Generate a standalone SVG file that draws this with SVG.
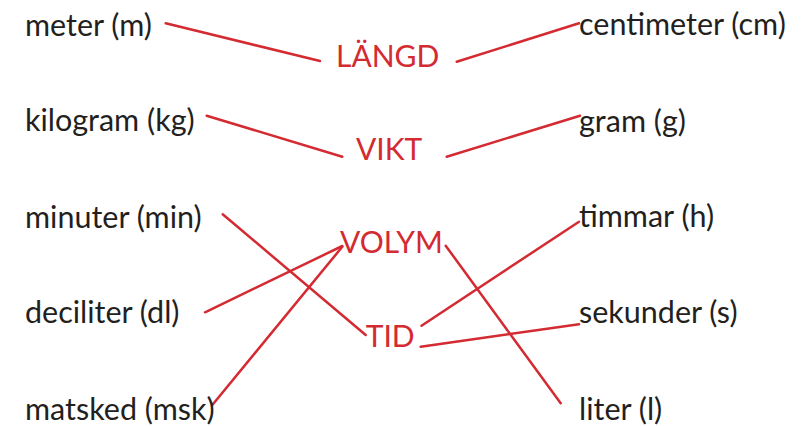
<svg xmlns="http://www.w3.org/2000/svg" width="805" height="426" viewBox="0 0 805 426">
<style>
.t{font-family:Lato,"Open Sans",sans-serif;font-size:30.5px;fill:#231f20}
.c{font-family:Lato,"Open Sans",sans-serif;font-size:30px;fill:#d42a32}
.l{stroke:#d42a32;stroke-width:2.5;fill:none;stroke-linecap:round}
</style>
<rect width="805" height="426" fill="#fff"/>
<g id="connectors">
<line class="l" x1="165.7" y1="23.3" x2="320" y2="61"/>
<line class="l" x1="456.7" y1="61.7" x2="579" y2="23.3"/>
<line class="l" x1="206.7" y1="115.7" x2="342.3" y2="156.7"/>
<line class="l" x1="446.7" y1="156.7" x2="580" y2="115.7"/>
<line class="l" x1="222.7" y1="214.3" x2="365.7" y2="335"/>
<line class="l" x1="205" y1="312.3" x2="342.3" y2="246"/>
<line class="l" x1="212.3" y1="405" x2="342.3" y2="246.7"/>
<line class="l" x1="421.5" y1="325.7" x2="579" y2="221.7"/>
<line class="l" x1="420.7" y1="346.7" x2="579" y2="324.3"/>
<line class="l" x1="445.7" y1="245.7" x2="560.7" y2="403.3"/>
</g>
<g id="n-meter"><text class="t" x="25" y="36">meter (m)</text></g>
<g id="n-kilogram"><text class="t" x="25" y="131">kilogram (kg)</text></g>
<g id="n-minuter"><text class="t" x="25" y="227.7">minuter (min)</text></g>
<g id="n-deciliter"><text class="t" x="25" y="323.3">deciliter (dl)</text></g>
<g id="n-matsked"><text class="t" x="25" y="420">matsked (msk)</text></g>
<g id="n-centimeter"><text class="t" x="579" y="35">centimeter (cm)</text></g>
<g id="n-gram"><text class="t" x="579" y="131.7">gram (g)</text></g>
<g id="n-timmar"><text class="t" x="579" y="226.7">timmar (h)</text></g>
<g id="n-sekunder"><text class="t" x="579" y="323.3">sekunder (s)</text></g>
<g id="n-liter"><text class="t" x="579" y="420">liter (l)</text></g>
<g id="n-langd"><text class="c" x="336" y="66.7">LÄNGD</text></g>
<g id="n-vikt"><text class="c" x="356" y="160">VIKT</text></g>
<g id="n-volym"><text class="c" x="340" y="253.3">VOLYM</text></g>
<g id="n-tid"><text class="c" x="365.7" y="346.7">TID</text></g>
</svg>
